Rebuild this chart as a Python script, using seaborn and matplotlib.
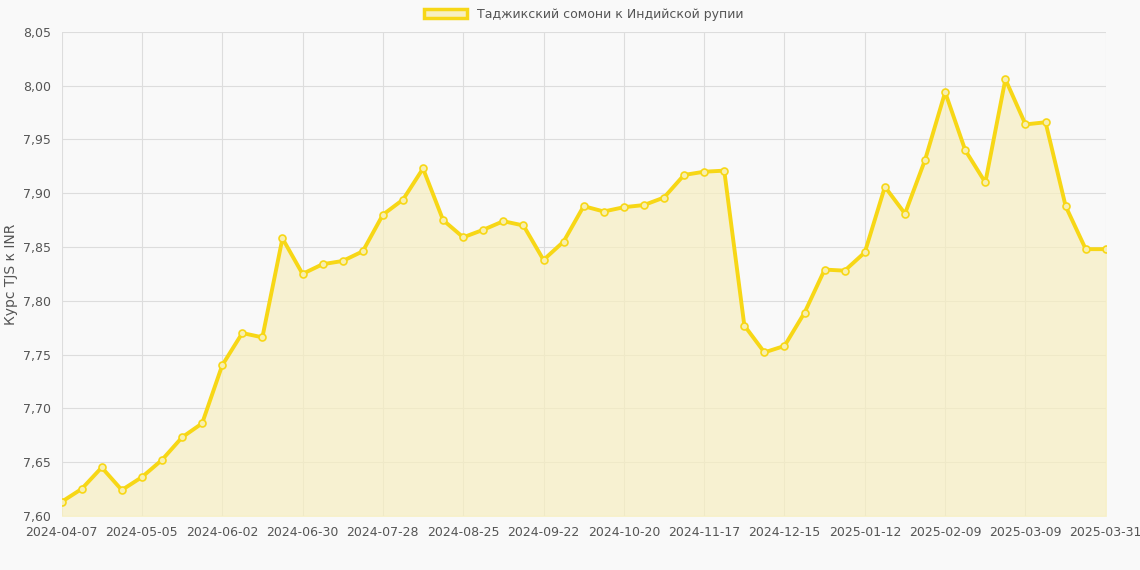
import pandas as pd
import numpy as np
import seaborn as sns
import matplotlib.pyplot as plt
from matplotlib.patches import Patch

# DATOS
tick_labels = ['2024-04-07', '2024-05-05', '2024-06-02', '2024-06-30', '2024-07-28',
               '2024-08-25', '2024-09-22', '2024-10-20', '2024-11-17', '2024-12-15',
               '2025-01-12', '2025-02-09', '2025-03-09', '2025-03-31']
rates = [7.613, 7.625, 7.645, 7.624, 7.636, 7.652, 7.673, 7.686, 7.740, 7.770,
         7.766, 7.858, 7.825, 7.834, 7.837, 7.846, 7.880, 7.894, 7.923, 7.875,
         7.859, 7.866, 7.874, 7.870, 7.838, 7.855, 7.888, 7.883, 7.887, 7.889,
         7.896, 7.917, 7.920, 7.921, 7.777, 7.752, 7.758, 7.789, 7.829, 7.828,
         7.845, 7.906, 7.881, 7.931, 7.994, 7.940, 7.910, 8.006, 7.964, 7.966,
         7.888, 7.848, 7.848]
serie = 'Таджикский сомони к Индийской рупии'

df = pd.DataFrame({'idx': np.arange(len(rates)), 'rate': rates})

sns.set_style('whitegrid')
plt.rcParams['font.family'] = ['DejaVu Sans']

fig, ax = plt.subplots(figsize=(11.4, 5.7), dpi=100)
fig.patch.set_facecolor('#f9f9f9')
ax.set_facecolor('#f9f9f9')

color = '#f7d716'
ax.fill_between(df['idx'], df['rate'], 7.60, color='#f7efc0', alpha=0.7, zorder=1)
sns.lineplot(data=df, x='idx', y='rate', ax=ax, color=color, linewidth=2.8,
             marker='o', markersize=5, markerfacecolor='#f7efb0',
             markeredgecolor=color, markeredgewidth=1.2, zorder=3)

ax.set_xlim(0, len(rates) - 1)
ax.set_ylim(7.60, 8.05)
ax.set_xticks(list(range(0, 49, 4)) + [len(rates) - 1])
ax.set_xticklabels(tick_labels, fontsize=9, color='#555555')
ax.set_yticks(np.arange(7.60, 8.051, 0.05))
ax.set_yticklabels([f'{v:.2f}'.replace('.', ',') for v in np.arange(7.60, 8.051, 0.05)],
                   fontsize=9, color='#555555')
ax.set_xlabel('')
ax.set_ylabel('Курс TJS к INR', fontsize=10, color='#555555')
ax.grid(True, color='#dddddd', linewidth=0.8)
for s in ax.spines.values():
    s.set_visible(False)
ax.tick_params(length=4, color='#cccccc')

ax.legend(handles=[Patch(facecolor='#f7efc0', edgecolor=color, linewidth=2.5, label=serie)],
          loc='lower center', bbox_to_anchor=(0.5, 1.0), frameon=False, fontsize=9,
          handlelength=3.5, labelcolor='#555555')

plt.subplots_adjust(left=0.054, right=0.97, top=0.944, bottom=0.095)
plt.savefig('out.png', dpi=100, facecolor=fig.get_facecolor())
